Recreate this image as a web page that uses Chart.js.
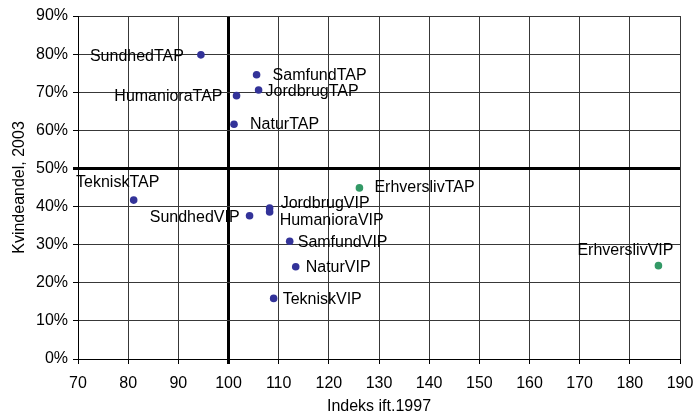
<!DOCTYPE html>
<html><head><meta charset="utf-8">
<script src="https://cdn.jsdelivr.net/npm/chart.js@4/dist/chart.umd.min.js"></script>
<style>html,body{margin:0;padding:0;background:#fff}</style>
</head><body>
<canvas id="c" width="694" height="414"></canvas>
<script>
// ---- data ----
const uniNames = ['SundhedTAP','SamfundTAP','JordbrugTAP','HumanioraTAP','NaturTAP','TekniskTAP',
                  'JordbrugVIP','HumanioraVIP','SundhedVIP','SamfundVIP','NaturVIP','TekniskVIP'];
const uniIndex = [94.5, 105.6, 106.0, 101.6, 101.1, 81.1, 108.2, 108.2, 104.2, 112.2, 113.4, 109.0];
const uniShare = [79.8, 74.6, 70.6, 69.1, 61.6, 41.7, 39.6, 38.6, 37.6, 30.9, 24.2, 15.9];
const erhvNames = ['ErhverslivTAP','ErhverslivVIP'];
const erhvIndex = [126.1, 185.7];
const erhvShare = [44.9, 24.5];
const xTitle = 'Indeks ift.1997';
const yTitle = 'Kvindeandel, 2003';

// ---- label placement (style, not data) ----
const labelPlace = {
  SundhedTAP:{dx:-17,dy:0,align:'right'}, SamfundTAP:{dx:16,dy:-1,align:'left'},
  JordbrugTAP:{dx:7,dy:0,align:'left'}, HumanioraTAP:{dx:-14,dy:-1,align:'right'},
  NaturTAP:{dx:16,dy:-1,align:'left'}, TekniskTAP:{dx:-16,dy:-19,align:'center'},
  ErhverslivTAP:{dx:15,dy:-2,align:'left'}, JordbrugVIP:{dx:11,dy:-6,align:'left'},
  HumanioraVIP:{dx:10,dy:7,align:'left'}, SundhedVIP:{dx:-10,dy:0,align:'right'},
  SamfundVIP:{dx:8,dy:0,align:'left'}, NaturVIP:{dx:10,dy:-1,align:'left'},
  TekniskVIP:{dx:9,dy:0,align:'left'}, ErhverslivVIP:{dx:-33,dy:-17,align:'center'}
};
const FONT = '"Liberation Sans", Arial, sans-serif';

const toPts = (xs, ys) => xs.map((x, i) => ({x, y: ys[i]}));

const labelPlugin = {
  id: 'pointLabels',
  afterDatasetsDraw(chart) {
    const ctx = chart.ctx;
    ctx.save();
    ctx.font = '16px ' + FONT;
    ctx.fillStyle = '#000';
    ctx.textBaseline = 'alphabetic';
    chart.data.datasets.forEach((ds, di) => {
      const meta = chart.getDatasetMeta(di);
      meta.data.forEach((el, i) => {
        const name = ds.names[i];
        const p = labelPlace[name] || {dx:8,dy:0,align:'left'};
        ctx.textAlign = p.align;
        ctx.fillText(name, el.x + p.dx, el.y + p.dy + 6);
      });
    });
    ctx.restore();
  }
};

new Chart(document.getElementById('c'), {
  type: 'scatter',
  data: {
    datasets: [
      {names: uniNames, data: toPts(uniIndex, uniShare), backgroundColor: '#333399', borderColor: '#333399',
       pointRadius: 3.8, pointBorderWidth: 0},
      {names: erhvNames, data: toPts(erhvIndex, erhvShare), backgroundColor: '#339966', borderColor: '#339966',
       pointRadius: 3.8, pointBorderWidth: 0}
    ]
  },
  options: {
    responsive: false, animation: false,
    layout: {padding: {top: 16, right: 14, left: 0, bottom: 0}},
    plugins: {legend: {display: false}, tooltip: {enabled: false}},
    scales: {
      x: {
        type: 'linear', min: 70, max: 190,
        ticks: {stepSize: 10, color: '#000', font: {family: FONT, size: 16}, padding: 10, maxRotation: 0},
        grid: {color: c => c.tick && c.tick.value === 100 ? '#000' : '#383838',
               lineWidth: c => c.tick && c.tick.value === 100 ? 3 : 1, tickLength: 5, tickColor: '#000'},
        border: {color: '#000', width: 1},
        title: {display: true, text: xTitle, color: '#000', font: {family: FONT, size: 16, lineHeight: 0.9}, padding: {top: 2, bottom: 0}},
        afterFit(s) { s.height = 55; s.paddingLeft = 0; s.paddingRight = 0; }
      },
      y: {
        type: 'linear', min: 0, max: 90,
        ticks: {stepSize: 10, color: '#000', font: {family: FONT, size: 16}, padding: 5, callback: v => v + '%'},
        grid: {color: c => c.tick && c.tick.value === 50 ? '#000' : '#383838',
               lineWidth: c => c.tick && c.tick.value === 50 ? 3 : 1, tickLength: 5, tickColor: '#000'},
        border: {color: '#000', width: 1},
        title: {display: true, text: yTitle, color: '#000', font: {family: FONT, size: 16}, padding: {top: 10, bottom: 0}},
        afterFit(s) { s.width = 78; s.paddingTop = 0; s.paddingBottom = 0; }
      }
    }
  },
  plugins: [labelPlugin]
});
</script>
</body></html>
